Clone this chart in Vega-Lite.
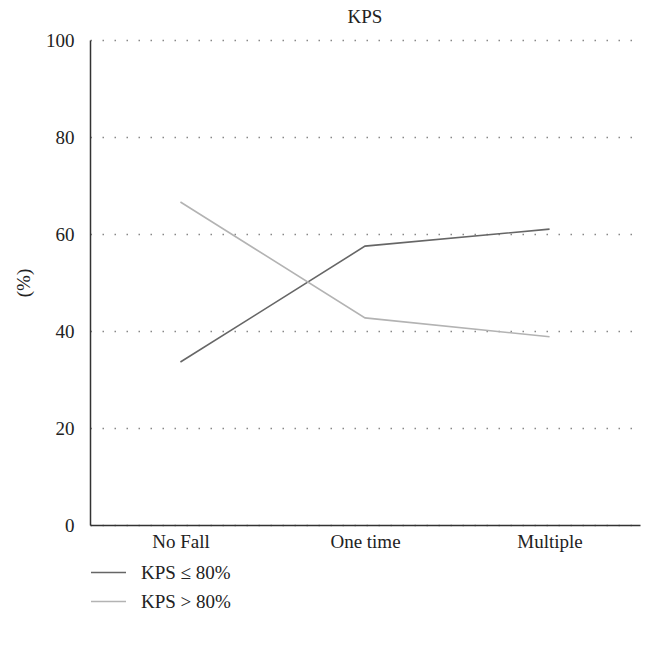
{
  "$schema": "https://vega.github.io/schema/vega-lite/v6.json",
  "width": 550,
  "height": 485,
  "autosize": "none",
  "padding": {"left": 90, "top": 40, "right": 14, "bottom": 122},
  "background": "white",
  "title": {"text": "KPS", "font": "Liberation Serif", "fontSize": 19, "fontWeight": "normal", "color": "#222", "offset": 4},
  "data": {"values": [
    {"fall": "No Fall", "group": "KPS ≤ 80%", "pct": 33.6},
    {"fall": "One time", "group": "KPS ≤ 80%", "pct": 57.5},
    {"fall": "Multiple", "group": "KPS ≤ 80%", "pct": 61.0},
    {"fall": "No Fall", "group": "KPS > 80%", "pct": 66.6},
    {"fall": "One time", "group": "KPS > 80%", "pct": 42.7},
    {"fall": "Multiple", "group": "KPS > 80%", "pct": 38.8}
  ]},
  "mark": {"type": "line", "strokeWidth": 1.6},
  "encoding": {
    "x": {"field": "fall", "type": "nominal", "sort": ["No Fall", "One time", "Multiple"],
      "scale": {"type": "point", "padding": 0.49},
      "axis": {"title": null, "labelAngle": 0, "ticks": false, "tickSize": 0, "labelPadding": 7, "labelFont": "Liberation Serif", "labelFontSize": 19, "labelColor": "#222", "domainColor": "#333", "domainWidth": 1.5, "grid": false}},
    "y": {"field": "pct", "type": "quantitative", "scale": {"domain": [0, 100]},
      "axis": {"title": "(%)", "values": [0, 20, 40, 60, 80, 100], "ticks": false, "tickSize": 0, "labelPadding": 16, "labelFont": "Liberation Serif", "labelFontSize": 19, "labelColor": "#222", "titleFont": "Liberation Serif", "titleFontSize": 19, "titleFontWeight": "normal", "titleColor": "#222", "titlePadding": 12, "domainColor": "#333", "domainWidth": 1.5, "grid": true, "gridColor": "#888", "gridDash": [1.5, 10.5], "gridWidth": 1.5}},
    "color": {"field": "group", "type": "nominal",
      "scale": {"domain": ["KPS ≤ 80%", "KPS > 80%"], "range": ["#666666", "#b3b3b3"]},
      "legend": {"title": null, "orient": "none", "legendX": 0, "legendY": 514, "symbolType": "stroke", "symbolSize": 1225, "symbolStrokeWidth": 1.6, "labelFont": "Liberation Serif", "labelFontSize": 19, "labelColor": "#222", "labelOffset": 14, "rowPadding": 0}}
  },
  "config": {"view": {"stroke": null}}
}
